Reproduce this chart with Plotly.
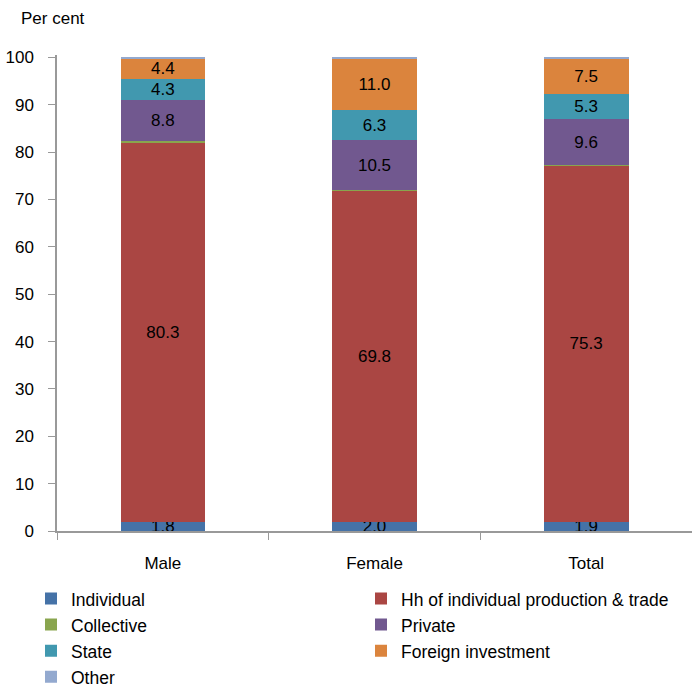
import plotly.graph_objects as go

categories = ["Male", "Female", "Total"]
individual = [1.8, 2.0, 1.9]
hh_trade = [80.3, 69.8, 75.3]
collective = [0.2, 0.2, 0.1]
private = [8.8, 10.5, 9.6]
state = [4.3, 6.3, 5.3]
foreign = [4.4, 11.0, 7.5]
other = [0.35, 0.3, 0.4]

series = [
    ("Individual", individual, "#4572A7", True),
    ("Hh of individual production & trade", hh_trade, "#AA4643", True),
    ("Collective", collective, "#89A54E", False),
    ("Private", private, "#71588F", True),
    ("State", state, "#4198AF", True),
    ("Foreign investment", foreign, "#DB843D", True),
    ("Other", other, "#93A9CF", False),
]

font_family = "Liberation Sans, Arial, sans-serif"
W, H = 692, 690
ML, MR, MT, MB = 57, 0, 55, 159
PW, PH = W - ML - MR, H - MT - MB

fig = go.Figure()
for name, vals, color, labeled in series:
    fig.add_trace(go.Bar(
        name=f'<span style="font-size:17.5px">{name}</span>', x=categories, y=vals,
        marker=dict(color=color, line=dict(width=0)),
        text=[f"{v:.1f}" for v in vals] if labeled else None,
        textposition="inside" if labeled else "none",
        insidetextanchor="middle",
        constraintext="none",
        textfont=dict(color="black", size=17, family=font_family),
        width=0.4,
    ))

fig.update_layout(
    barmode="stack",
    width=W, height=H,
    margin=dict(l=ML, r=MR, t=MT, b=MB, autoexpand=False),
    plot_bgcolor="white", paper_bgcolor="white",
    font=dict(family=font_family, size=17, color="black"),
    showlegend=True,
    legend=dict(
        orientation="h", x=(31 - ML) / PW, xanchor="left",
        y=-49.6 / PH, yanchor="top",
        entrywidth=285, entrywidthmode="pixels",
        traceorder="normal",
        font=dict(size=17.7, family=font_family, color="black"),
    ),
    annotations=[dict(text="Per cent", xref="paper", yref="paper",
                      x=(19 - ML) / PW, y=1 + (MT - 18) / PH,
                      xanchor="left", yanchor="middle",
                      showarrow=False, font=dict(size=17, family=font_family))],
)
fig.update_xaxes(
    showline=True, linecolor="#999999", linewidth=1.5,
    ticks="outside", tickson="boundaries", ticklen=7, tickcolor="#999999",
    showgrid=False, tickfont=dict(size=17), ticklabelstandoff=16,
)
fig.update_yaxes(
    range=[0, 100.5], tickvals=list(range(0, 101, 10)),
    showline=True, linecolor="#999999", linewidth=1.5,
    ticks="outside", ticklen=7, tickcolor="#999999", showgrid=False,
    zeroline=False, tickfont=dict(size=17), ticklabelstandoff=11,
)

fig.write_html("out.html", config={"displayModeBar": False},
               post_script="document.body.style.margin='0px';")
